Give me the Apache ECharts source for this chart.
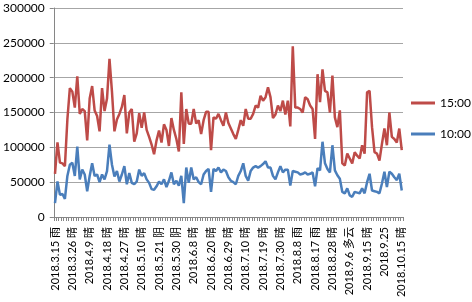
<!DOCTYPE html>
<html>
<head>
<meta charset="utf-8">
<script src="https://cdn.jsdelivr.net/npm/echarts@6/dist/echarts.min.js"></script>
<style>
  html, body { margin: 0; padding: 0; background: #fff; }
  #chart { width: 472px; height: 302px; }
</style>
</head>
<body>
<div id="chart"></div>
<script>
// 每隔7个交易日显示一个标签
var tickLabels = ['2018.3.15 雨', '2018.3.26 晴', '2018.4.9 晴', '2018.4.18 晴', '2018.4.27 晴',
  '2018.5.10 晴', '2018.5.21 阴', '2018.5.30 阴', '2018.6.8 晴', '2018.6.20 晴', '2018.6.29 晴',
  '2018.7.10 晴', '2018.7.19 晴', '2018.7.30 晴', '2018.8.8 雨', '2018.8.17 雨', '2018.8.28 晴',
  '2018.9.6 多云', '2018.9.15 晴', '2018.9.25', '2018.10.15 晴'];
var labelStep = 7;

var seriesNames = ['15:00', '10:00'];

var pm = [62000, 107000, 78000, 77000, 73000, 140000, 185000, 180000, 157000, 202000,
  148000, 155000, 152000, 110000, 170000, 188000, 153000, 145000, 123000, 185000,
  152000, 170000, 227000, 180000, 123000, 140000, 148000, 158000, 175000, 120000,
  150000, 155000, 108000, 120000, 149000, 128000, 150000, 125000, 115000, 104000,
  90000, 110000, 124000, 107000, 133000, 125000, 102000, 142000, 125000, 112000,
  94000, 179000, 105000, 155000, 134000, 134000, 155000, 134000, 139000, 119000,
  139000, 151000, 151000, 96000, 143000, 141000, 148000, 139000, 131000, 150000,
  135000, 127000, 119000, 112000, 125000, 139000, 131000, 155000, 141000, 141000,
  148000, 160000, 157000, 174000, 167000, 172000, 186000, 172000, 142000, 147000,
  160000, 152000, 167000, 147000, 167000, 130000, 245000, 157000, 157000, 155000,
  150000, 172000, 169000, 160000, 155000, 112000, 205000, 165000, 212000, 181000,
  179000, 150000, 203000, 143000, 129000, 153000, 77000, 74000, 91000, 84000,
  77000, 93000, 88000, 84000, 103000, 91000, 179000, 181000, 129000, 93000,
  91000, 81000, 105000, 127000, 103000, 150000, 115000, 112000, 107000, 127000,
  96000];

var am = [20000, 51000, 32000, 33000, 26000, 59000, 75000, 78000, 59000, 101000,
  54000, 68000, 61000, 37000, 59000, 77000, 59000, 61000, 50000, 61000,
  54000, 66000, 104000, 75000, 58000, 66000, 51000, 61000, 73000, 47000,
  63000, 49000, 47000, 51000, 68000, 59000, 63000, 54000, 49000, 40000,
  39000, 44000, 51000, 47000, 54000, 43000, 52000, 64000, 47000, 52000,
  45000, 59000, 20000, 71000, 49000, 71000, 54000, 57000, 50000, 47000,
  61000, 66000, 69000, 36000, 69000, 66000, 71000, 64000, 68000, 66000,
  57000, 52000, 50000, 47000, 59000, 66000, 77000, 59000, 52000, 66000,
  71000, 73000, 71000, 73000, 76000, 80000, 71000, 71000, 59000, 54000,
  64000, 73000, 64000, 68000, 68000, 45000, 66000, 65000, 64000, 61000,
  62000, 64000, 61000, 62000, 64000, 44000, 70000, 67000, 108000, 77000,
  69000, 64000, 103000, 67000, 60000, 55000, 36000, 34000, 41000, 31000,
  29000, 36000, 35000, 34000, 41000, 34000, 50000, 62000, 38000, 37000,
  36000, 34000, 48000, 65000, 43000, 65000, 62000, 57000, 53000, 62000,
  38000];

var categories = pm.map(function(v, i) {
  return i % labelStep === 0 ? tickLabels[i / labelStep] : '';
});

var chart = echarts.init(document.getElementById('chart'));
var font = 'Lato, "Noto Sans CJK SC", sans-serif';

var option = {
  backgroundColor: '#fff',
  animation: false,
  textStyle: { fontFamily: font },
  grid: { left: 53, right: 69, top: 8, bottom: 85 },
  legend: {
    orient: 'vertical',
    left: 406,
    top: 92,
    icon: 'rect',
    itemWidth: 24,
    itemHeight: 3,
    itemGap: 19,
    textStyle: { fontSize: 12, color: '#000', fontFamily: font },
    data: seriesNames
  },
  xAxis: {
    type: 'category',
    boundaryGap: true,
    data: categories,
    axisLine: { lineStyle: { color: '#868686', width: 1 } },
    axisTick: { show: true, interval: 0, length: 4, lineStyle: { color: '#868686' } },
    axisLabel: {
      interval: 0,
      rotate: 90,
      margin: 10,
      fontSize: 11,
      color: '#000',
      fontFamily: font
    }
  },
  yAxis: {
    type: 'value',
    min: 0,
    max: 300000,
    interval: 50000,
    axisLine: { show: true, lineStyle: { color: '#868686' } },
    axisTick: { show: true, length: 4, lineStyle: { color: '#868686' } },
    axisLabel: {
      margin: 9,
      fontSize: 12,
      color: '#000',
      fontFamily: font,
      formatter: function(v) { return String(v); }
    },
    splitLine: { lineStyle: { color: '#a6a6a6', width: 1 } }
  },
  series: [
    {
      name: seriesNames[0],
      type: 'line',
      data: pm,
      symbol: 'none',
      lineStyle: { color: '#BE4B48', width: 2.5 },
      itemStyle: { color: '#BE4B48' }
    },
    {
      name: seriesNames[1],
      type: 'line',
      data: am,
      symbol: 'none',
      lineStyle: { color: '#4A7EBB', width: 2.5 },
      itemStyle: { color: '#4A7EBB' }
    }
  ]
};
chart.setOption(option);
</script>
</body>
</html>
